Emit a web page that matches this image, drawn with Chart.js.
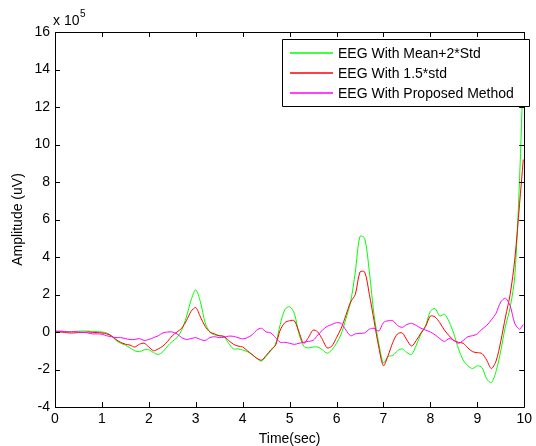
<!DOCTYPE html>
<html><head><meta charset="utf-8">
<script src="https://cdn.jsdelivr.net/npm/chart.js@4/dist/chart.umd.min.js"></script>
<style>html,body{margin:0;padding:0;background:#fff;}canvas{display:block;}</style>
</head><body>
<canvas id="c" width="536" height="446"></canvas>
<script>
const times = [0,0.1,0.2,0.3,0.4,0.5,0.6,0.7,0.8,0.9,1,1.1,1.2,1.3,1.4,1.5,1.6,1.7,1.8,1.9,2,2.1,2.2,2.3,2.4,2.5,2.6,2.7,2.8,2.9,3,3.1,3.2,3.3,3.4,3.5,3.6,3.7,3.8,3.9,4,4.1,4.2,4.3,4.4,4.5,4.6,4.7,4.8,4.9,5,5.1,5.2,5.3,5.4,5.5,5.6,5.7,5.8,5.9,6,6.1,6.2,6.3,6.4,6.5,6.6,6.7,6.8,6.9,7,7.1,7.2,7.3,7.4,7.5,7.6,7.7,7.8,7.9,8,8.1,8.2,8.3,8.4,8.5,8.6,8.7,8.8,8.9,9,9.1,9.2,9.3,9.4,9.5,9.6,9.7,9.8,9.9,9.98];
const meanPlus2Std = [0,0.02,0.03,0.03,0.02,0.05,0.05,0.05,0.03,0.02,0,-0.05,-0.2,-0.45,-0.6,-0.7,-0.85,-1.0,-1.05,-0.95,-0.95,-1.1,-1.2,-1.05,-0.75,-0.5,-0.3,0.1,0.8,1.7,2.25,1.6,0.5,0.0,-0.15,-0.2,-0.25,-0.6,-0.9,-0.9,-0.96,-1.05,-1.2,-1.4,-1.55,-1.3,-1.0,-0.65,0.4,1.2,1.35,1.0,-0.1,-0.75,-0.85,-0.8,-0.8,-0.95,-1.13,-0.95,-0.6,-0.1,0.7,1.6,3.2,5.1,5.0,3.2,0.9,-0.6,-1.65,-1.3,-1.25,-1.0,-0.9,-1.1,-1.2,-0.7,-0.1,0.35,1.1,1.25,0.85,0.95,0.55,-0.1,-0.9,-1.5,-1.8,-1.95,-1.8,-1.9,-2.5,-2.7,-2.1,-1.0,0.3,1.3,3.0,8.1,14.0];
const std15 = [0,0,-0.02,-0.05,-0.05,-0.03,-0.02,0,-0.02,-0.03,-0.05,-0.1,-0.2,-0.4,-0.55,-0.65,-0.7,-0.8,-0.65,-0.6,-0.8,-1.0,-0.9,-0.75,-0.5,-0.2,0.0,0.2,0.6,1.1,1.3,0.8,0.3,0.0,-0.1,-0.2,-0.23,-0.45,-0.65,-0.75,-0.8,-1.0,-1.2,-1.4,-1.5,-1.25,-0.95,-0.7,0.1,0.5,0.6,0.6,0.0,-0.6,-0.3,0.1,0.0,-0.4,-0.85,-0.75,-0.3,0.2,0.9,1.6,2.0,3.2,3.2,2.0,0.6,-0.8,-1.8,-1.25,-0.55,-0.1,-0.05,-0.43,-0.75,-0.45,-0.05,0.3,0.85,0.8,0.5,0.1,-0.2,-0.45,-0.55,-0.6,-0.85,-1.05,-1.1,-1.15,-1.5,-1.95,-1.55,-0.5,0.8,2.0,3.9,6.8,9.2];
const proposed = [0.05,0.05,0.03,0,0.02,0,-0.02,-0.05,-0.1,-0.1,-0.12,-0.2,-0.25,-0.3,-0.3,-0.35,-0.4,-0.4,-0.35,-0.45,-0.4,-0.3,-0.2,-0.05,0,0,-0.1,-0.3,-0.4,-0.35,-0.3,-0.4,-0.45,-0.3,-0.25,-0.3,-0.28,-0.22,-0.23,-0.3,-0.37,-0.3,-0.15,0.1,0.2,0,-0.05,-0.3,-0.55,-0.55,-0.6,-0.66,-0.6,-0.55,-0.5,-0.45,-0.16,0.1,0.3,0.4,0.5,0.45,0.1,-0.2,-0.1,-0.07,-0.05,0.15,0.2,0.05,0.5,0.6,0.6,0.35,0.25,0.4,0.46,0.35,0.2,0.1,0,-0.15,-0.35,-0.5,-0.35,-0.45,-0.6,-0.45,-0.25,-0.2,-0.1,0.15,0.35,0.65,1.0,1.6,1.8,1.4,0.45,0.15,0.4];
const seriesLabels = ['EEG With Mean+2*Std','EEG With 1.5*std','EEG With Proposed Method'];
const seriesColors = ['#00ff00','#ff0000','#ff00ff'];
const xTicks = [0,1,2,3,4,5,6,7,8,9,10];
const yTicks = [-4,-2,0,2,4,6,8,10,12,14,16];
const xTitle = 'Time(sec)';
const yTitle = 'Amplitude (uV)';
const FONT = '"Liberation Sans", Arial, sans-serif';

const seriesValues = [meanPlus2Std, std15, proposed];
// magenta drawn on top (Chart.js draws dataset 0 last)
const datasets = [2, 1, 0].map(i => ({
  label: seriesLabels[i],
  data: times.map((t, k) => ({x: t, y: seriesValues[i][k]})),
  borderColor: seriesColors[i],
  backgroundColor: seriesColors[i],
  borderWidth: 1,
  pointRadius: 0,
  tension: 0.3,
  fill: false,
  clip: false
}));

const framePlugin = {
  id: 'frame',
  afterDatasetsDraw(chart) {
    const ctx = chart.ctx;
    const a = chart.chartArea;
    const xs = chart.scales.x, ys = chart.scales.y;
    ctx.save();
    ctx.strokeStyle = '#000';
    ctx.lineWidth = 1;
    ctx.beginPath();
    ctx.rect(Math.round(a.left) + 0.5, Math.round(a.top) + 0.5, Math.round(a.right - a.left), Math.round(a.bottom - a.top));
    ctx.stroke();
    const tl = 5;
    ctx.beginPath();
    xTicks.forEach(v => {
      const px = Math.round(xs.getPixelForValue(v)) + 0.5;
      ctx.moveTo(px, a.bottom); ctx.lineTo(px, a.bottom - tl);
      ctx.moveTo(px, a.top); ctx.lineTo(px, a.top + tl);
    });
    yTicks.forEach(v => {
      const py = Math.round(ys.getPixelForValue(v)) + 0.5;
      ctx.moveTo(a.left, py); ctx.lineTo(a.left + tl, py);
      ctx.moveTo(a.right, py); ctx.lineTo(a.right - tl, py);
    });
    ctx.stroke();
    // exponent label
    ctx.fillStyle = '#000';
    ctx.font = '14px ' + FONT;
    ctx.textBaseline = 'alphabetic';
    ctx.textAlign = 'left';
    ctx.fillText('x 10', a.left - 2, a.top - 7);
    const w = ctx.measureText('x 10').width;
    ctx.font = '10px ' + FONT;
    ctx.fillText('5', a.left - 2 + w + 0.5, a.top - 15);
    // legend
    const lx = 282, ly = 39, lw = 247, lh = 67;
    ctx.fillStyle = '#fff';
    ctx.fillRect(lx, ly, lw, lh);
    ctx.beginPath();
    ctx.rect(lx + 0.5, ly + 0.5, lw, lh);
    ctx.strokeStyle = '#000';
    ctx.lineWidth = 1;
    ctx.stroke();
    ctx.font = '14px ' + FONT;
    ctx.textBaseline = 'middle';
    seriesLabels.forEach((lab, i) => {
      const yy = Math.round(ly + 14 + i * 19.8);
      ctx.strokeStyle = seriesColors[i];
      ctx.lineWidth = 1.5;
      ctx.beginPath();
      ctx.moveTo(290, yy);
      ctx.lineTo(333, yy);
      ctx.stroke();
      ctx.fillStyle = '#000';
      ctx.fillText(lab, 338, yy + 1);
    });
    ctx.restore();
  }
};

new Chart(document.getElementById('c'), {
  type: 'line',
  data: { datasets: datasets },
  options: {
    responsive: false,
    animation: false,
    devicePixelRatio: 1,
    layout: { padding: { top: 32, right: 6, left: 0, bottom: 0 } },
    plugins: { legend: { display: false }, tooltip: { enabled: false } },
    scales: {
      x: {
        type: 'linear', min: 0, max: 10,
        afterBuildTicks(s) { s.ticks = xTicks.map(v => ({value: v})); },
        afterFit(s) { s.height = 39; },
        grid: { display: false, drawTicks: false },
        border: { display: false },
        ticks: { color: '#000', font: { family: FONT, size: 14 }, padding: 4, maxRotation: 0, autoSkip: false },
        title: { display: true, text: xTitle, color: '#000', font: { family: FONT, size: 14, lineHeight: 1 }, padding: { top: 0, bottom: 0 } }
      },
      y: {
        type: 'linear', min: -4, max: 16,
        afterBuildTicks(s) { s.ticks = yTicks.map(v => ({value: v})); },
        afterFit(s) { s.width = 55; },
        grid: { display: false, drawTicks: false },
        border: { display: false },
        ticks: { color: '#000', font: { family: FONT, size: 14 }, padding: 5, autoSkip: false },
        title: { display: true, text: yTitle, color: '#000', font: { family: FONT, size: 14, lineHeight: 1 }, padding: { top: 11, bottom: 0 } }
      }
    }
  },
  plugins: [framePlugin]
});
</script>
</body></html>
